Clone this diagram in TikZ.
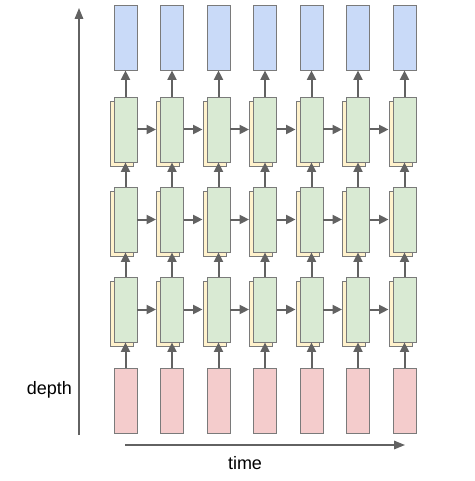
\documentclass[tikz,border=0pt]{standalone}
\usepackage{fontspec}
\setmainfont{Liberation Sans}
\usetikzlibrary{arrows.meta}
\definecolor{outcol}{HTML}{C9DAF8}
\definecolor{hidcol}{HTML}{D9EAD3}
\definecolor{backcol}{HTML}{FFF2CC}
\definecolor{incol}{HTML}{F4CCCC}
\definecolor{edgecol}{HTML}{7A7A7A}
\definecolor{arrcol}{HTML}{626262}
\begin{document}
\begin{tikzpicture}[x=1pt,y=-1pt,
cell/.style={draw=edgecol,line width=0.9pt,minimum width=23pt,minimum height=65pt,inner sep=0pt},
link/.style={draw=arrcol,line width=2pt,-{Triangle[length=9.5pt,width=9pt]}},
axis/.style={draw=arrcol,line width=1.6pt,-{Triangle[length=11pt,width=8.5pt]}},
lab/.style={font=\fontsize{18}{20}\selectfont,inner sep=0pt}]
\useasboundingbox (0,0) rectangle (474,481);
\foreach \col in {0,...,6}{
\node[cell,fill=outcol] (out\col) at ({125.5+\col*46.5},37.5) {};
\node[cell,fill=incol] (in\col) at ({125.5+\col*46.5},400.5) {};
\foreach \row in {0,...,2}{
\node[cell,fill=backcol] (back\row\col) at ({121.5+\col*46.5},{133.5+\row*90}) {};
\node[cell,fill=hidcol] (hid\row\col) at ({125.5+\col*46.5},{129.5+\row*90}) {};
}}
\foreach \col in {0,...,6}{
\draw[link] (hid0\col) -- (out\col);
\draw[link] (hid1\col) -- (hid0\col);
\draw[link] (hid2\col) -- (hid1\col);
\draw[link] (in\col) -- (hid2\col);
}
\foreach \row in {0,...,2}{
\foreach \col in {0,...,5}{
\pgfmathtruncatemacro\nxt{\col+1}
\draw[link] (hid\row\col.east) -- (hid\row\col.east -| back\row\nxt.west);
}}
\coordinate (dbot) at (79,435);
\coordinate (dtop) at (79,8);
\coordinate (tleft) at (125,445);
\coordinate (tright) at (405,445);
\draw[axis] (dbot) -- (dtop);
\draw[axis] (tleft) -- (tright);
\node[lab,anchor=base east] (depth) at (72,394) {depth};
\node[lab,anchor=base] (time) at (245,469) {time};
%\draw[step=10, thin] (0,0) grid (474,481);
\end{tikzpicture}
\end{document}
